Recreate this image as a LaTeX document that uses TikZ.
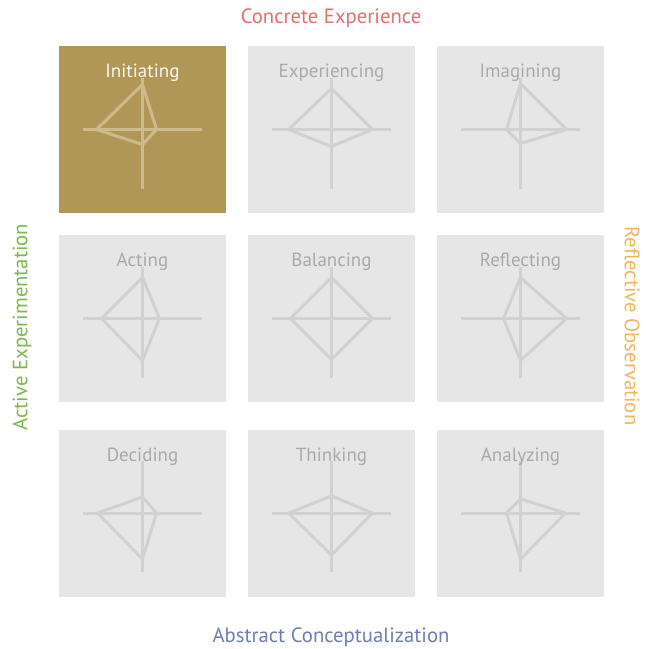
\documentclass[tikz,border=0pt]{standalone}
\usepackage{fontspec}
\setmainfont{PT Sans}
\definecolor{boxgray}{HTML}{E6E6E6}
\definecolor{gold}{HTML}{B09758}
\definecolor{goldline}{HTML}{CDBB8D}
\definecolor{grayline}{HTML}{D1D1D1}
\definecolor{titlegray}{HTML}{A9A9A9}
\definecolor{cered}{HTML}{E2706C}
\definecolor{acblue}{HTML}{6E7CB6}
\definecolor{aegreen}{HTML}{7DB84B}
\definecolor{roorange}{HTML}{F4B55C}
\tikzset{
  cell/.style={draw=none, fill=boxgray, minimum width=167pt, minimum height=167pt, inner sep=0pt},
  cellhi/.style={cell, fill=gold},
  celltitle/.style={anchor=base, text=titlegray, font=\fontsize{19}{19}\selectfont, inner sep=0pt},
  axislabel/.style={font=\fontsize{20.7}{20.7}\selectfont, inner sep=0pt},
  chart/.style={line width=3pt, draw=grayline, line join=round},
}
\begin{document}
\begin{tikzpicture}[x=1pt,y=-1pt]
\useasboundingbox[fill=white] (0,0) rectangle (650,648);
% name / cx / cy / title / top / right / bottom / left / highlight
\foreach \nm/\cx/\cy/\ttl/\pt/\pr/\pb/\pl/\hi in {
  ini/142.5/129.5/Initiating/45/14/15/46/1,
  exp/331.5/129.5/Experiencing/41/41/17/43/0,
  ima/520.5/129.5/Imagining/46/46/14/14/0,
  act/142.5/318.5/Acting/41/17/42/41/0,
  bal/331.5/318.5/Balancing/41/41/41/41/0,
  ref/520.5/318.5/Reflecting/41/46/42/17/0,
  dec/142.5/513/Deciding/16/14/46/45/0,
  thi/331.5/513/Thinking/17/41/42/43/0,
  ana/520.5/513/Analyzing/14/45/46/14/0}{
  \ifnum\hi=1
    \node[cellhi] (\nm) at (\cx,\cy) {};
    \def\lc{goldline}\def\tc{white!92!gold}
  \else
    \node[cell] (\nm) at (\cx,\cy) {};
    \def\lc{grayline}\def\tc{titlegray}
  \fi
  \draw[chart, draw=\lc] (\cx-59.5,\cy) -- (\cx+59.5,\cy);
  \draw[chart, draw=\lc] (\cx,\cy-52) -- (\cx,\cy+59);
  \draw[chart, draw=\lc] (\cx,\cy-\pt) -- (\cx+\pr,\cy) -- (\cx,\cy+\pb) -- (\cx-\pl,\cy) -- cycle;
  \node[celltitle, text=\tc] (\nm-t) at ([yshift=-32pt]\nm.north) {\ttl};
}
\node[axislabel, text=cered] (ce) at (331,18) {Concrete Experience};
\node[axislabel, text=acblue] (ac) at (331,637) {Abstract Conceptualization};
\node[axislabel, text=aegreen, rotate=90] (ae) at (22,327) {Active Experimentation};
\node[axislabel, text=roorange, rotate=-90] (ro) at (632,326) {Reflective Observation};
\end{tikzpicture}
\end{document}
